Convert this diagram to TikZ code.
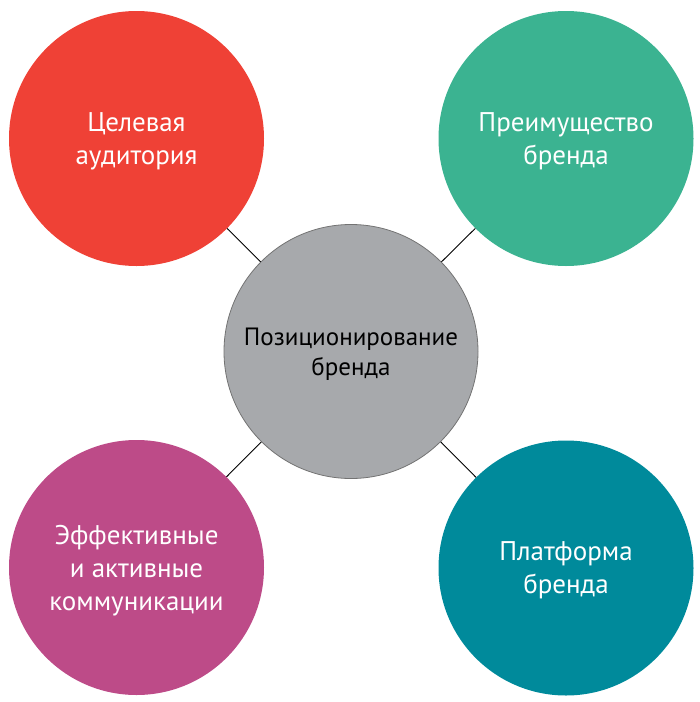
\documentclass[tikz,border=0pt]{standalone}
\usepackage{fontspec}
\setmainfont{PT Sans}
\usepackage{tikz}

\definecolor{audred}{HTML}{EF4136}
\definecolor{advgreen}{HTML}{3BB391}
\definecolor{hubgray}{HTML}{A7A9AC}
\definecolor{commpink}{HTML}{BD4B88}
\definecolor{platteal}{HTML}{008A9B}

\begin{document}
\begin{tikzpicture}[
    x=1pt, y=1pt,
    topic/.style={circle, minimum size=255pt, inner sep=0pt, align=center, text depth=-11pt,
                  text=white, font=\fontsize{27}{33}\selectfont},
    hub/.style={circle, draw=black!55, fill=hubgray, line width=0.8pt, minimum size=254pt,
                inner sep=0pt, align=center, text depth=-10pt, font=\fontsize{25}{30}\selectfont},
    link/.style={draw=black, line width=0.9pt}
]
    \useasboundingbox (0,0) rectangle (700,-702);

    \node[hub] (brand) at (351,-351.5) {Позиционирование\\бренда};

    \node[topic, fill=audred]   (audience) at (136.5,-138.5) {Целевая\\аудитория};
    \node[topic, fill=advgreen] (advantage) at (566,-138.5) {Преимущество\\бренда};
    \node[topic, fill=commpink] (comms) at (136.5,-567.5) {Эффективные\\и активные\\коммуникации};
    \node[topic, fill=platteal] (platform) at (566,-568) {Платформа\\бренда};

    \draw[link] (brand) -- (audience);
    \draw[link] (brand) -- (advantage);
    \draw[link] (brand) -- (comms);
    \draw[link] (brand) -- (platform);
\end{tikzpicture}
\end{document}
